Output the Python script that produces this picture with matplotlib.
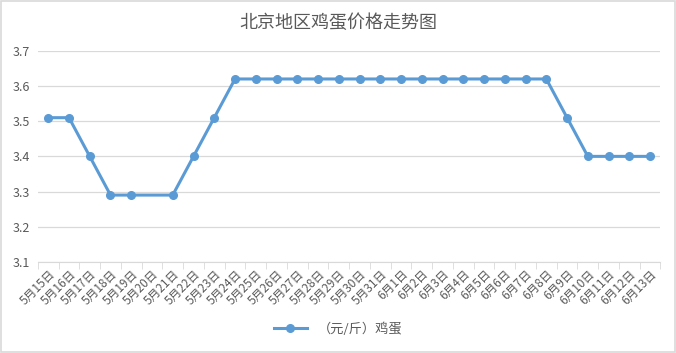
import numpy as np
from matplotlib import pyplot as plt
from matplotlib.patches import Rectangle

plt.rcParams['font.family'] = ['Noto Sans CJK SC', 'DejaVu Sans']

DATES = [f"5月{d}日" for d in range(15, 32)] + [f"6月{d}日" for d in range(1, 14)]
# 5月20日 has no value; the line is joined across the gap
PRICES = [3.51, 3.51, 3.40, 3.29, 3.29, None, 3.29, 3.40, 3.51, 3.62,
          3.62, 3.62, 3.62, 3.62, 3.62, 3.62, 3.62, 3.62, 3.62, 3.62,
          3.62, 3.62, 3.62, 3.62, 3.62, 3.51, 3.40, 3.40, 3.40, 3.40]
SERIES_NAME = "（元/斤）鸡蛋"
TITLE = "北京地区鸡蛋价格走势图"

LINE_COLOR = "#5B9BD5"
TEXT_COLOR = "#595959"
GRID_COLOR = "#D9D9D9"

x = np.arange(len(DATES))
y = np.array([np.nan if p is None else p for p in PRICES])
ok = ~np.isnan(y)

fig = plt.figure(figsize=(6.76, 3.53), dpi=100)
ax = fig.add_axes([0.056, 0.258, 0.921, 0.598])

ax.plot(x[ok], y[ok], color=LINE_COLOR, linewidth=2.2, marker="o",
        markersize=5.5, label=SERIES_NAME)

ax.set_xlim(-0.5, len(DATES) - 0.5)
ax.set_ylim(3.1, 3.7)
ax.set_yticks(np.arange(3.1, 3.71, 0.1))
ax.set_yticklabels([f"{v:.1f}" for v in np.arange(3.1, 3.71, 0.1)])
ax.grid(axis="y", color=GRID_COLOR, linewidth=0.9)
ax.set_axisbelow(True)

ax.set_xticks(x)
ax.set_xticklabels(DATES, rotation=45, ha="right", rotation_mode="anchor")
ax.set_xticks(np.arange(-0.5, len(DATES)), minor=True)
ax.tick_params(axis="x", which="major", length=0, pad=4, labelsize=8.5,
               labelcolor=TEXT_COLOR)
ax.tick_params(axis="x", which="minor", length=5, color=GRID_COLOR)
ax.tick_params(axis="y", length=0, labelsize=9, labelcolor=TEXT_COLOR, pad=6)

for s in ["top", "right", "left"]:
    ax.spines[s].set_visible(False)
ax.spines["bottom"].set_color(GRID_COLOR)

fig.text(0.5, 0.935, TITLE, ha="center", va="center", fontsize=13,
         color=TEXT_COLOR)

fig.legend(loc="center", bbox_to_anchor=(0.5, 0.068), frameon=False,
           fontsize=9.5, labelcolor=TEXT_COLOR, handlelength=2.5)

fig.patches.append(Rectangle((0.001, 0.002), 0.997, 0.995, transform=fig.transFigure,
                             fill=False, edgecolor=GRID_COLOR, linewidth=1.2))

fig.savefig("out.png", dpi=100)
